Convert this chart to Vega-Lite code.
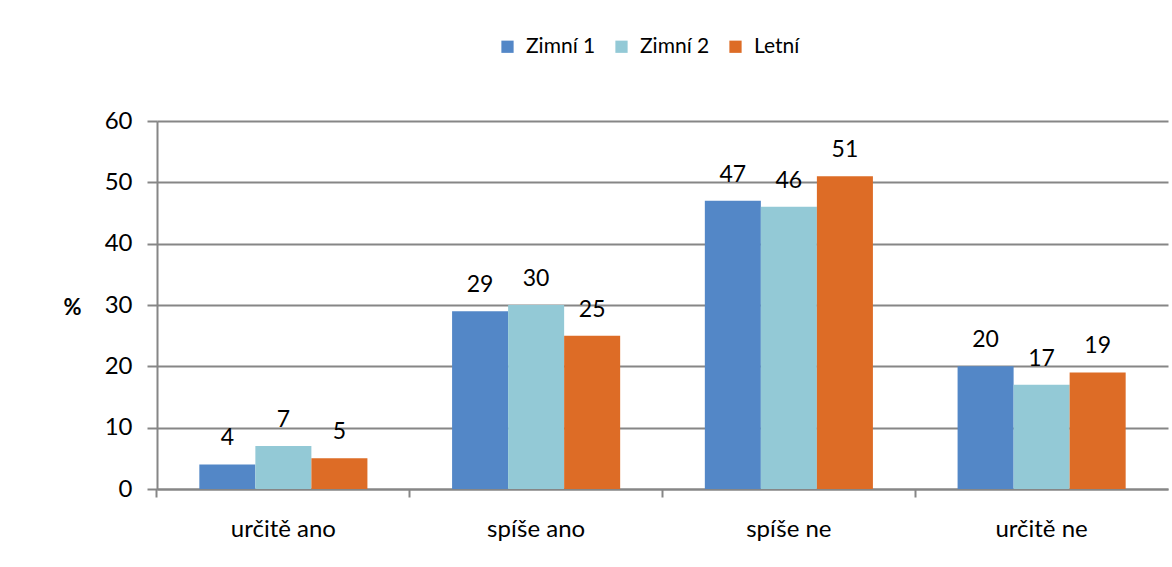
{
  "$schema": "https://vega.github.io/schema/vega-lite/v6.json",
  "width": 1011,
  "height": 368,
  "autosize": {"type": "none"},
  "padding": {"left": 157, "top": 121, "right": 4, "bottom": 78},
  "background": "white",
  "config": {
    "font": "Lato",
    "view": {"stroke": null},
    "axis": {"labelFont": "Lato", "titleFont": "Lato", "labelColor": "black", "titleColor": "black"}
  },
  "data": {
    "values": [
      {"odpoved": "určitě ano", "obdobi": "Zimní 1", "procent": 4},
      {"odpoved": "určitě ano", "obdobi": "Zimní 2", "procent": 7},
      {"odpoved": "určitě ano", "obdobi": "Letní", "procent": 5},
      {"odpoved": "spíše ano", "obdobi": "Zimní 1", "procent": 29},
      {"odpoved": "spíše ano", "obdobi": "Zimní 2", "procent": 30},
      {"odpoved": "spíše ano", "obdobi": "Letní", "procent": 25},
      {"odpoved": "spíše ne", "obdobi": "Zimní 1", "procent": 47},
      {"odpoved": "spíše ne", "obdobi": "Zimní 2", "procent": 46},
      {"odpoved": "spíše ne", "obdobi": "Letní", "procent": 51},
      {"odpoved": "určitě ne", "obdobi": "Zimní 1", "procent": 20},
      {"odpoved": "určitě ne", "obdobi": "Zimní 2", "procent": 17},
      {"odpoved": "určitě ne", "obdobi": "Letní", "procent": 19}
    ]
  },
  "encoding": {
    "x": {
      "field": "odpoved",
      "type": "nominal",
      "sort": null,
      "scale": {"paddingInner": 0.335, "paddingOuter": 0.1675},
      "axis": {
        "title": null,
        "labelAngle": 0,
        "labelFontSize": 24,
        "labelPadding": 20,
        "tickSize": 8,
        "tickWidth": 2,
        "tickColor": "#868686",
        "domainColor": "#868686",
        "domainWidth": 2,
        "bandPosition": -0.252,
        "grid": false
      }
    },
    "xOffset": {
      "field": "obdobi",
      "type": "nominal",
      "sort": ["Zimní 1", "Zimní 2", "Letní"],
      "scale": {"paddingInner": 0, "paddingOuter": 0}
    },
    "y": {
      "field": "procent",
      "type": "quantitative",
      "scale": {"domain": [0, 60], "nice": false},
      "axis": {
        "title": "%",
        "titleAngle": 0,
        "titleX": -85,
        "titleY": 186,
        "titleAlign": "center",
        "titleBaseline": "middle",
        "titleFontSize": 22,
        "titleFontWeight": "bold",
        "values": [0, 10, 20, 30, 40, 50, 60],
        "labelFontSize": 24,
        "labelPadding": 15,
        "tickSize": 10,
        "tickWidth": 2,
        "tickColor": "#868686",
        "domainColor": "#868686",
        "domainWidth": 2,
        "gridColor": "#868686",
        "gridWidth": 2,
        "gridOpacity": 1
      }
    }
  },
  "layer": [
    {
      "mark": {"type": "bar"},
      "encoding": {
        "color": {
          "field": "obdobi",
          "type": "nominal",
          "sort": ["Zimní 1", "Zimní 2", "Letní"],
          "scale": {"domain": ["Zimní 1", "Zimní 2", "Letní"], "range": ["#5387C7", "#93C9D6", "#DD6C26"]},
          "legend": {
            "title": null,
            "orient": "none",
            "direction": "horizontal",
            "legendX": 340,
            "legendY": -85,
            "symbolType": "square",
            "symbolSize": 150,
            "symbolStrokeWidth": 0,
            "symbolOpacity": 1,
            "labelFontSize": 21,
            "labelOffset": 8,
            "columnPadding": 15,
            "labelColor": "black"
          }
        }
      }
    },
    {
      "mark": {"type": "text", "baseline": "alphabetic", "align": "center", "dy": -19, "fontSize": 23, "color": "black"},
      "encoding": {
        "text": {"field": "procent", "type": "quantitative"}
      }
    }
  ]
}
